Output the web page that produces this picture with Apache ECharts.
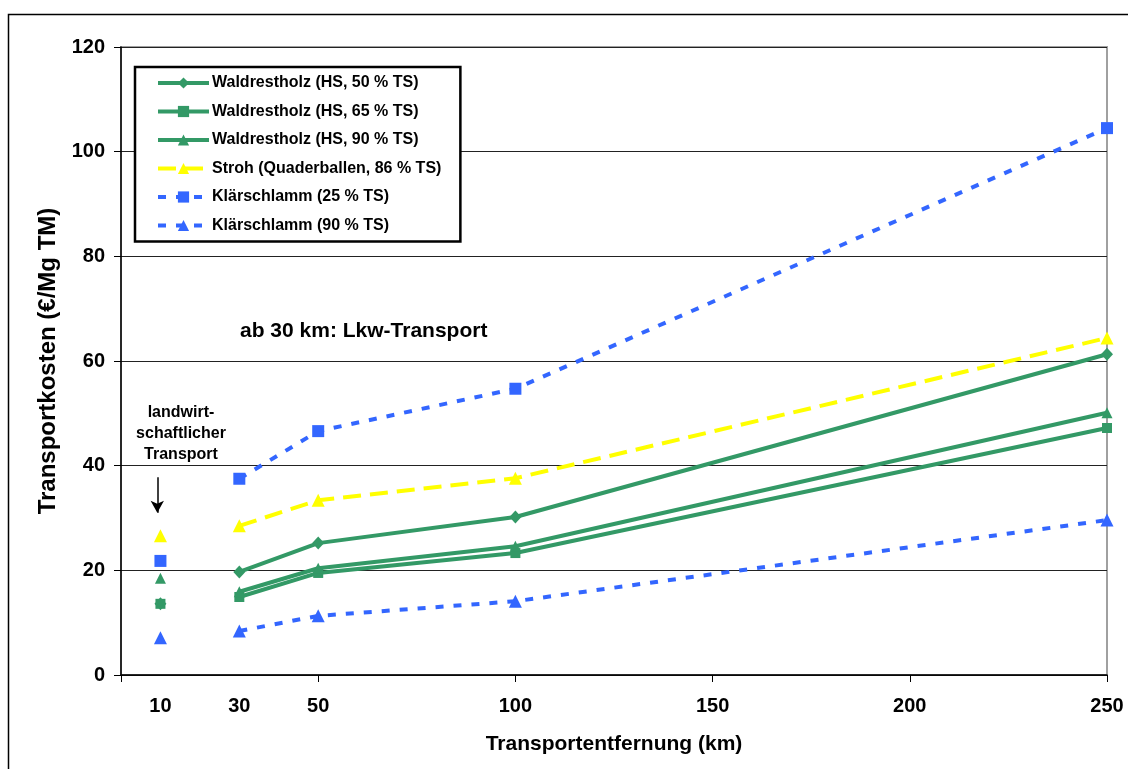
<!DOCTYPE html>
<html>
<head>
<meta charset="utf-8">
<script src="https://cdn.jsdelivr.net/npm/echarts@6/dist/echarts.min.js"></script>
<style>
  html, body { margin: 0; padding: 0; background: #fff; }
  #main { width: 1128px; height: 769px; }
</style>
</head>
<body>
<div id="main"></div>
<script>
// Entfernungen (km)
var km = [10, 30, 50, 100, 250];
var xLabels = [10, 30, 50, 100, 150, 200, 250];

// Transportkosten (€/Mg TM), erster Wert = landwirtschaftlicher Transport (10 km)
var wald50 = [13.6, 19.7, 25.2, 30.2, 61.3];
var wald65 = [13.6, 14.9, 19.5, 23.3, 47.2];
var wald90 = [18.5, 15.9, 20.4, 24.6, 50.1];
var stroh = [26.6, 28.5, 33.4, 37.6, 64.4];
var klaer25 = [21.8, 37.5, 46.6, 54.7, 104.5];
var klaer90 = [7.1, 8.4, 11.3, 14.1, 29.6];

var names = [
    'Waldrestholz (HS, 50 % TS)',
    'Waldrestholz (HS, 65 % TS)',
    'Waldrestholz (HS, 90 % TS)',
    'Stroh (Quaderballen, 86 % TS)',
    'Klärschlamm (25 % TS)',
    'Klärschlamm (90 % TS)'
];

var green = '#339966', yellow = '#FFFF00', blue = '#3366FF';
var font = "'Liberation Sans', Arial, sans-serif";

var defs = [
    { vals: wald50, color: green, symbol: 'diamond', size: [12, 13], dash: 'solid' },
    { vals: wald65, color: green, symbol: 'rect', size: 10, dash: 'solid' },
    { vals: wald90, color: green, symbol: 'triangle', size: 11, dash: 'solid' },
    { vals: stroh, color: yellow, symbol: 'triangle', size: 13, dash: [18, 9] },
    { vals: klaer25, color: blue, symbol: 'rect', size: 12, dash: [8, 10] },
    { vals: klaer90, color: blue, symbol: 'triangle', size: 13, dash: [8, 10] }
];

function pairs(vals, from, to) {
    var out = [];
    for (var i = from; i < to; i++) out.push([km[i], vals[i]]);
    return out;
}

var series = [];
// Lkw-Transport ab 30 km (Linien)
defs.forEach(function (d, i) {
    series.push({
        name: names[i],
        type: 'line',
        data: pairs(d.vals, 1, km.length),
        symbol: d.symbol,
        symbolSize: d.size,
        showAllSymbol: true,
        lineStyle: { color: d.color, width: 4, type: d.dash },
        itemStyle: { color: d.color, opacity: 1 },
        z: 3 + i
    });
});
// landwirtschaftlicher Transport (10 km, einzelne Punkte)
defs.forEach(function (d, i) {
    var s = {
        name: 'lw ' + names[i],
        type: 'scatter',
        data: pairs(d.vals, 0, 1),
        symbol: d.symbol,
        symbolSize: d.size,
        itemStyle: { color: d.color, opacity: 1 },
        z: 3 + i
    };
    if (i === 0) {
        s.markLine = {
            silent: true,
            symbol: ['none', 'arrow'],
            symbolSize: [10, 12],
            label: { show: false },
            lineStyle: { color: '#000', width: 1.5, type: 'solid' },
            data: [[{ coord: [9.2, 37.8] }, { coord: [9.2, 31] }]]
        };
    }
    series.push(s);
});

var myChart = echarts.init(document.getElementById('main'));

var option = {
    backgroundColor: '#fff',
    animation: false,
    textStyle: { fontFamily: font },
    grid: {
        left: 121, top: 47, right: 21, bottom: 94,
        show: true, borderColor: '#a0a0a0', borderWidth: 2
    },
    legend: {
        data: names,
        orient: 'vertical',
        left: 135, top: 67,
        padding: [8, 19, 8, 21],
        itemWidth: 51, itemHeight: 14, itemGap: 12.5,
        borderColor: '#000', borderWidth: 2.5,
        backgroundColor: '#fff',
        lineStyle: { width: 4 },
        textStyle: { fontFamily: font, fontSize: 16, fontWeight: 'bold', color: '#000', padding: [0, 0, 0, -2], lineHeight: 16 }
    },
    xAxis: {
        type: 'value',
        min: 0, max: 250, interval: 50,
        name: 'Transportentfernung (km)',
        nameLocation: 'middle', nameGap: 59,
        nameTextStyle: { fontFamily: font, fontSize: 21, fontWeight: 'bold', color: '#000' },
        axisLine: { lineStyle: { color: '#000', width: 1.5 } },
        axisTick: { show: true, length: 7, lineStyle: { color: '#000' } },
        axisLabel: {
            customValues: xLabels,
            margin: 21,
            fontFamily: font, fontSize: 20, fontWeight: 'bold', color: '#000'
        },
        splitLine: { show: false }
    },
    yAxis: {
        type: 'value',
        min: 0, max: 120, interval: 20,
        name: 'Transportkosten (€/Mg TM)',
        nameLocation: 'middle', nameGap: 58,
        nameTextStyle: { fontFamily: font, fontSize: 24, fontWeight: 'bold', color: '#000' },
        axisLine: { show: true, lineStyle: { color: '#000', width: 1.5 } },
        axisTick: { show: true, length: 7, lineStyle: { color: '#000' } },
        axisLabel: { margin: 16, fontFamily: font, fontSize: 20, fontWeight: 'bold', color: '#000' },
        splitLine: { show: true, lineStyle: { color: '#222', width: 1 } }
    },
    graphic: [
        {
            type: 'rect', silent: true, z: -1,
            shape: { x: 8.5, y: 14.5, width: 1200, height: 800 },
            style: { fill: 'none', stroke: '#000', lineWidth: 1.5 }
        },
        {
            type: 'text', left: 240, top: 321, z: 10,
            style: { text: 'ab 30 km: Lkw-Transport', font: 'bold 21px ' + font, fill: '#000' }
        },
        {
            type: 'text', x: 181, y: 402, z: 10,
            style: {
                text: 'landwirt-\nschaftlicher\nTransport',
                font: 'bold 16px ' + font, fill: '#000',
                align: 'center', lineHeight: 21
            }
        }
    ],
    series: series
};

myChart.setOption(option);
</script>
</body>
</html>
